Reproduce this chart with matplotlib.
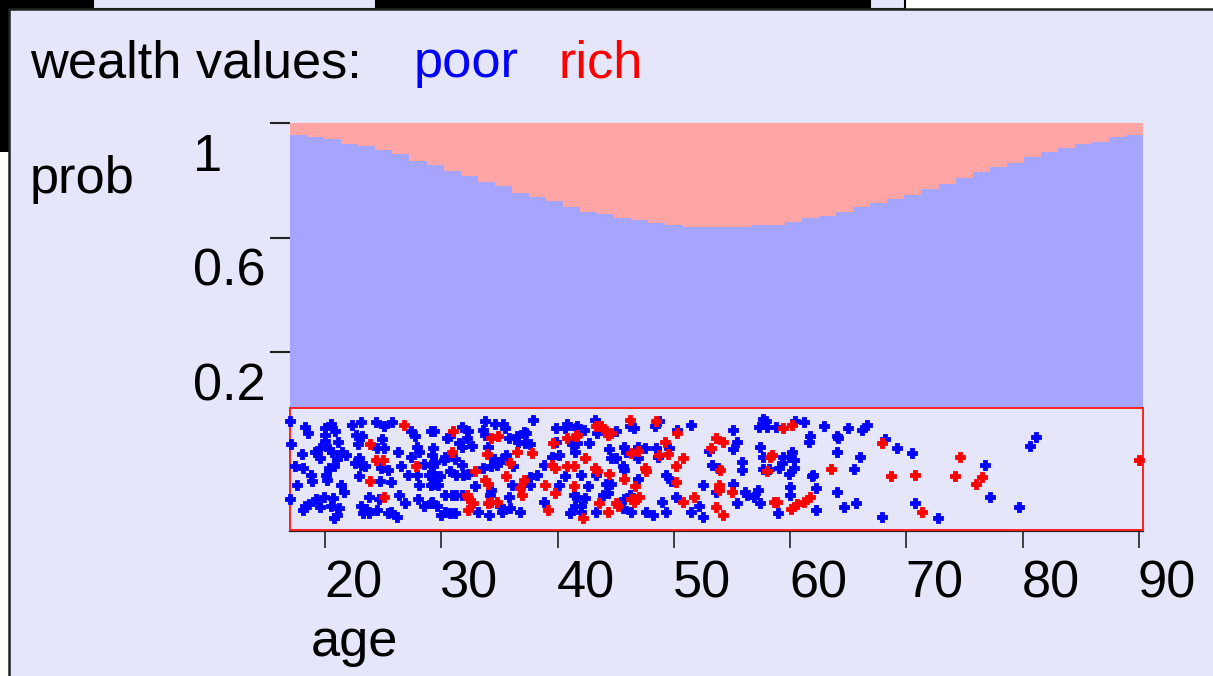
import numpy as np
import matplotlib
matplotlib.use("Agg")
import matplotlib.pyplot as plt
from matplotlib.patches import Rectangle

plt.rcParams['font.family'] = ['Liberation Sans', 'DejaVu Sans']

# ---------------- data ----------------
age_min, age_max = 16.99, 90.37
x_ticks = [20, 30, 40, 50, 60, 70, 80, 90]
y_ticks = [0.2, 0.6, 1.0]
y_tick_labels = ["0.2", "0.6", "1"]

# share of "poor" in each of 50 age bins (rest is "rich")
poor_share = [0.959, 0.951, 0.944, 0.929, 0.921, 0.906, 0.892, 0.869, 0.854, 0.832,
              0.817, 0.795, 0.780, 0.758, 0.742, 0.727, 0.707, 0.691, 0.683, 0.669,
              0.661, 0.653, 0.646, 0.639, 0.639, 0.639, 0.639, 0.646, 0.646, 0.654,
              0.668, 0.676, 0.691, 0.707, 0.720, 0.736, 0.749, 0.771, 0.788, 0.809,
              0.831, 0.846, 0.861, 0.883, 0.899, 0.913, 0.929, 0.936, 0.951, 0.958]

# individual records: age and vertical jitter (0..1) inside the strip
poor_age = [17.0, 17.05, 17.4, 17.6, 17.0, 18.3, 18.5, 18.0, 18.1, 18.8, 18.9, 18.3, 18.6, 18.1, 19.2, 19.9,
            19.6, 19.1, 19.6, 19.6, 20.0, 20.0, 20.0, 20.5, 20.9, 20.35, 20.6, 20.8, 20.35, 20.1, 20.15, 21.1,
            21.0, 21.5, 21.8, 21.35, 21.6, 20.7, 20.5, 21.2, 21.0, 20.8, 22.35, 23.1, 22.7, 23.2, 22.8, 22.6,
            22.9, 23.1, 23.4, 22.9, 24.4, 25.1, 25.8, 24.9, 24.5, 25.1, 24.8, 25.4, 24.7, 25.65, 23.8, 24.65,
            23.1, 23.5, 23.3, 23.8, 24.5, 25.4, 25.7, 26.2, 26.4, 26.85, 26.5, 26.3, 27.4, 27.7, 27.95, 28.1,
            27.4, 27.1, 27.95, 28.1, 28.0, 28.5, 29.1, 28.5, 29.1, 29.1, 28.95, 29.1,
            29.4, 30.5, 30.75, 31.75, 32.3, 32.2, 31.5, 31.75, 32.6, 29.3, 29.2, 30.3, 30.2, 31.2, 29.5, 29.3,
            31.75, 30.75, 29.2, 29.5, 29.9, 31.3, 31.9, 32.3, 29.3, 29.7, 30.3, 30.9, 31.3, 31.75, 29.2, 29.6,
            30.3, 30.75, 31.2, 30.0, 33.2, 32.9, 33.8, 33.6, 33.8, 34.6, 35.3, 35.5, 34.0, 34.5, 34.3, 34.8,
            33.6, 35.2, 35.8, 36.5, 36.6, 37.1, 37.3, 37.2, 37.6, 37.9, 35.6, 36.2, 34.3, 34.2, 36.05, 37.6,
            38.2, 37.6, 35.05, 35.2, 35.9, 36.8, 34.1, 35.8, 38.8, 40.1, 39.9, 40.6, 40.8, 39.9, 41.6, 39.5,
            40.1, 41.2, 41.5, 40.6, 41.4, 38.8, 41.1, 41.5,
            41.7, 42.3, 43.2, 43.4, 45.0, 46.2, 46.6, 48.7, 48.4, 51.5, 50.3, 42.7, 41.7, 44.4, 45.7, 45.9,
            46.9, 47.5, 48.5, 49.6, 48.6, 44.6, 45.0, 45.6, 45.7, 46.9, 43.3, 42.0, 46.9, 49.3, 44.2, 44.6,
            42.6, 49.75, 43.9, 44.3, 42.4, 41.7, 46.2, 45.7, 49.0, 50.2, 42.0, 42.0, 43.3, 45.6, 46.3, 47.6,
            48.2, 49.3, 51.5, 52.2, 52.5, 52.5, 53.6, 53.0, 53.3, 53.8,
            57.7, 57.9, 57.3, 58.0, 58.8, 60.4, 61.2, 55.1, 55.4, 55.1, 55.9, 55.9, 57.4, 57.7, 59.4, 59.9,
            60.3, 60.2, 59.3, 59.0, 57.7, 58.2, 59.9, 60.3, 55.1, 56.1, 56.3, 56.9, 57.2, 55.4, 57.4, 60.0,
            60.0, 58.95, 62.0, 61.9, 61.7, 61.6, 62.2, 62.2, 62.9, 64.0, 64.1, 64.0, 64.0, 64.6, 65.0, 65.5,
            65.7, 66.0, 66.2, 66.6,
            68.15, 67.9, 69.2, 70.5, 70.7, 72.7, 76.75, 77.2, 79.7, 80.6, 81.1]
poor_jit = [0.89, 0.70, 0.52, 0.37, 0.25, 0.84, 0.79, 0.62, 0.51, 0.45, 0.40, 0.20, 0.21, 0.16, 0.25, 0.27,
            0.19, 0.64, 0.67, 0.59, 0.83, 0.78, 0.73, 0.87, 0.81, 0.66, 0.64, 0.52, 0.51, 0.45, 0.41, 0.72,
            0.58, 0.64, 0.61, 0.37, 0.31, 0.26, 0.20, 0.18, 0.12, 0.10, 0.86, 0.88, 0.78, 0.77, 0.70, 0.55,
            0.59, 0.53, 0.52, 0.44, 0.88, 0.85, 0.88, 0.74, 0.67, 0.67, 0.51, 0.49, 0.40, 0.39, 0.27, 0.25,
            0.20, 0.17, 0.14, 0.14, 0.16, 0.14, 0.15, 0.11, 0.29, 0.22, 0.52, 0.64, 0.81, 0.77, 0.68, 0.64,
            0.60, 0.45, 0.45, 0.37, 0.25, 0.20, 0.22, 0.54, 0.53, 0.81, 0.45, 0.37,
            0.81, 0.75, 0.77, 0.84, 0.81, 0.75, 0.71, 0.68, 0.69, 0.67, 0.61, 0.60, 0.57, 0.58, 0.56, 0.52,
            0.53, 0.48, 0.46, 0.44, 0.44, 0.45, 0.45, 0.46, 0.38, 0.37, 0.29, 0.29, 0.29, 0.29, 0.23, 0.20,
            0.15, 0.14, 0.14, 0.12, 0.15, 0.36, 0.89, 0.82, 0.78, 0.87, 0.87, 0.83, 0.68, 0.58, 0.52, 0.53,
            0.51, 0.58, 0.75, 0.77, 0.72, 0.80, 0.79, 0.71, 0.70, 0.90, 0.61, 0.52, 0.33, 0.29, 0.37, 0.43,
            0.45, 0.37, 0.20, 0.15, 0.18, 0.15, 0.12, 0.27, 0.53, 0.37, 0.83, 0.83, 0.87, 0.72, 0.83, 0.60,
            0.61, 0.70, 0.64, 0.44, 0.29, 0.23, 0.14, 0.20,
            0.85, 0.82, 0.90, 0.79, 0.81, 0.85, 0.83, 0.89, 0.85, 0.86, 0.82, 0.71, 0.71, 0.66, 0.68, 0.64,
            0.68, 0.67, 0.67, 0.67, 0.60, 0.59, 0.59, 0.52, 0.49, 0.59, 0.45, 0.45, 0.42, 0.45, 0.38, 0.38,
            0.36, 0.40, 0.29, 0.30, 0.26, 0.27, 0.29, 0.25, 0.23, 0.27, 0.20, 0.15, 0.15, 0.18, 0.15, 0.15,
            0.12, 0.15, 0.15, 0.20, 0.11, 0.37, 0.31, 0.65, 0.53, 0.51,
            0.91, 0.89, 0.84, 0.84, 0.84, 0.89, 0.88, 0.82, 0.72, 0.66, 0.56, 0.49, 0.68, 0.60, 0.60, 0.60,
            0.57, 0.64, 0.55, 0.51, 0.50, 0.50, 0.46, 0.51, 0.38, 0.31, 0.29, 0.27, 0.33, 0.22, 0.22, 0.35,
            0.29, 0.14, 0.45, 0.44, 0.77, 0.72, 0.34, 0.16, 0.85, 0.77, 0.75, 0.64, 0.31, 0.19, 0.83, 0.50,
            0.22, 0.60, 0.82, 0.86,
            0.74, 0.11, 0.67, 0.63, 0.22, 0.10, 0.53, 0.27, 0.19, 0.69, 0.76]

rich_age = [23.9, 23.9, 24.4, 25.0, 25.1, 26.8, 27.8,
            31.0, 30.9, 32.9, 32.2, 32.3, 32.75, 32.3, 34.3, 34.9, 33.9, 36.5, 37.8, 35.9, 33.8, 34.0, 35.6,
            36.8, 37.1, 36.9, 34.3, 34.8, 34.0, 39.5, 39.8, 40.8, 41.4, 38.9, 39.8, 39.6, 40.8, 41.6, 41.4, 39.2,
            41.7, 43.3, 43.7, 44.2, 44.3, 44.6, 46.2, 48.5, 50.3, 46.3, 46.9, 48.7, 49.2, 49.5, 50.75, 42.4,
            43.2, 43.4, 44.4, 47.5, 47.6, 45.7, 50.2, 46.7, 50.2, 46.3, 46.7, 47.0, 46.6, 43.6, 45.0, 45.2,
            50.75, 51.75, 44.3, 42.15, 53.6, 54.2, 53.9, 53.9, 53.6, 54.2, 53.2, 54.0,
            59.4, 60.2, 58.3, 58.4, 58.0, 55.0, 58.6, 58.9, 60.6, 60.1, 61.2, 61.7, 63.5,
            67.9, 68.7, 70.7, 71.3, 74.6, 74.2, 76.0, 76.5, 90.0]
rich_jit = [0.70, 0.40, 0.57, 0.57, 0.27, 0.86, 0.52,
            0.81, 0.64, 0.48, 0.29, 0.26, 0.22, 0.16, 0.75, 0.77, 0.62, 0.64, 0.63, 0.55, 0.41, 0.38, 0.44,
            0.34, 0.41, 0.29, 0.23, 0.23, 0.22, 0.53, 0.51, 0.52, 0.52, 0.37, 0.30, 0.71, 0.75, 0.77, 0.36, 0.16,
            0.78, 0.85, 0.85, 0.81, 0.78, 0.79, 0.90, 0.89, 0.79, 0.63, 0.65, 0.61, 0.72, 0.62, 0.59, 0.59,
            0.51, 0.48, 0.46, 0.51, 0.48, 0.42, 0.52, 0.36, 0.39, 0.25, 0.25, 0.27, 0.23, 0.22, 0.22, 0.20,
            0.23, 0.27, 0.15, 0.10, 0.19, 0.12, 0.37, 0.33, 0.75, 0.72, 0.67, 0.49,
            0.83, 0.86, 0.60, 0.61, 0.48, 0.31, 0.23, 0.23, 0.21, 0.17, 0.23, 0.27, 0.50,
            0.71, 0.44, 0.45, 0.15, 0.60, 0.44, 0.38, 0.43, 0.57]

# ---------------- styling ----------------
W, H = 1213, 676
LAV = '#E6E6FA'
BLUE_FILL = '#A5A5FF'
RED_FILL = '#FFA5A5'
FS = 37.7

fig = plt.figure(figsize=(W / 100, H / 100), dpi=100, facecolor='white')


def px_rect(x0, y0, x1, y1, color, ec='none', lw=0, z=-5):
    fig.patches.append(Rectangle((x0 / W, 1 - y1 / H), (x1 - x0) / W, (y1 - y0) / H,
                                 transform=fig.transFigure, facecolor=color,
                                 edgecolor=ec, linewidth=lw, zorder=z))


# background screenshot remnants
px_rect(0, 0, 93, 9, 'black')
px_rect(93, -2, 376, 9, LAV, ec='black', lw=1.5)
px_rect(376, 0, 870, 9, 'black')
px_rect(870, -2, 905, 9, LAV, ec='black', lw=1.5)
px_rect(0, 0, 9, 150, 'black')
px_rect(-2, 150, 9, 152, 'black')
# main panel
px_rect(9, 9, W + 5, H + 5, LAV, ec='#222222', lw=1.8, z=-4)


def fx(x):
    return x / W


def fy(y):
    return 1 - y / H


ax_left, ax_right = 290, 1143.3
y_top, y_zero = 123.3, 409.5
strip_top, strip_bot = 407.7, 530.0

# probability stacked area
ax = fig.add_axes([fx(ax_left), fy(y_zero), (ax_right - ax_left) / W, (y_zero - y_top) / H])
ax.set_zorder(2)
ax.set_facecolor('none')
edges = np.linspace(age_min, age_max, len(poor_share) + 1)
poor = np.array(poor_share)
ax.stairs(np.ones_like(poor), edges, baseline=poor, fill=True, color=RED_FILL, lw=0)
ax.stairs(poor, edges, baseline=0, fill=True, color=BLUE_FILL, lw=0)
ax.set_xlim(age_min, age_max)
ax.set_ylim(0, 1)
for s in ax.spines.values():
    s.set_visible(False)
ax.set_xticks([])
ax.set_yticks(y_ticks)
ax.set_yticklabels([])
ax.tick_params(axis='y', direction='out', length=14.5, width=1.5, color='#222222')

# strip with individual records
ax2 = fig.add_axes([fx(ax_left), fy(strip_bot), (ax_right - ax_left) / W, (strip_bot - strip_top) / H])
ax2.set_facecolor(LAV)
ax2.set_zorder(3)
ax2.scatter(poor_age, poor_jit, marker='P', s=42, color='#0000FF', edgecolors='#0000FF',
            linewidths=0.6, clip_on=False, zorder=3)
ax2.scatter(rich_age, rich_jit, marker='P', s=42, color='#FF0000', edgecolors='#FF0000',
            linewidths=0.6, clip_on=False, zorder=4)
ax2.set_xlim(age_min, age_max)
ax2.set_ylim(0, 1)
for s in ax2.spines.values():
    s.set_color('#FF2020')
    s.set_linewidth(1.4)
ax2.plot([0, 1], [-0.012, -0.012], transform=ax2.transAxes, color='#222222', lw=1.6, clip_on=False)
ax2.set_yticks([])
ax2.set_xticks(x_ticks)
ax2.set_xticklabels([])
ax2.tick_params(axis='x', direction='out', length=13, width=1.2, color='#222222')

# ---------------- texts ----------------
fig.text(fx(30), fy(77), "wealth values:", fontsize=FS, color='black', va='baseline', ha='left')
fig.text(fx(414), fy(77), "poor", fontsize=FS, color='#0000FF', va='baseline', ha='left')
fig.text(fx(559), fy(77), "rich", fontsize=FS, color='#FF0000', va='baseline', ha='left')
fig.text(fx(30), fy(193), "prob", fontsize=FS, color='black', va='baseline', ha='left')

for val, lab in zip(y_ticks, y_tick_labels):
    ypix = y_zero - (y_zero - y_top) * val
    fig.text(fx(193), fy(ypix + 48), lab, fontsize=FS, va='baseline', ha='left')

for t in x_ticks:
    xpix = ax_left + (t - age_min) / (age_max - age_min) * (ax_right - ax_left)
    fig.text(fx(xpix - 1), fy(598), str(t), fontsize=FS, va='baseline', ha='left')

fig.text(fx(311), fy(656), "age", fontsize=FS, va='baseline', ha='left')

fig.savefig('out.png', dpi=100, facecolor=fig.get_facecolor())
